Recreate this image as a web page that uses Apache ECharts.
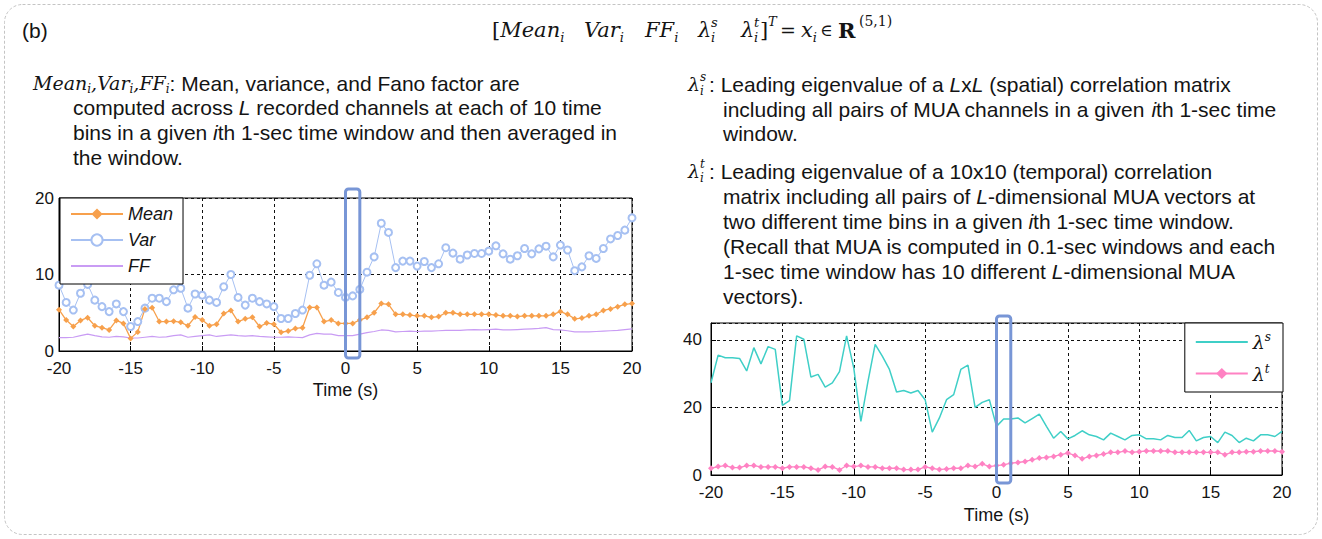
<!DOCTYPE html>
<html><head><meta charset="utf-8">
<script src="https://cdn.jsdelivr.net/npm/echarts@6/dist/echarts.min.js"></script>
<style>html,body{margin:0;padding:0;background:#fff;}#c{width:1322px;height:539px;}</style>
</head><body><div id="c"></div>
<script>
// ---------------- data ----------------
const time = [-20,-19.5,-19,-18.5,-18,-17.5,-17,-16.5,-16,-15.5,-15,-14.5,-14,-13.5,-13,-12.5,-12,-11.5,-11,-10.5,
  -10,-9.5,-9,-8.5,-8,-7.5,-7,-6.5,-6,-5.5,-5,-4.5,-4,-3.5,-3,-2.5,-2,-1.5,-1,-0.5,
  0,0.5,1,1.5,2,2.5,3,3.5,4,4.5,5,5.5,6,6.5,7,7.5,8,8.5,9,9.5,
  10,10.5,11,11.5,12,12.5,13,13.5,14,14.5,15,15.5,16,16.5,17,17.5,18,18.5,19,19.5,20];

const meanValues = [5.4,4.05,3.2,4.0,4.35,3.3,3.05,2.75,4.0,3.6,1.65,2.5,5.5,5.65,3.85,3.85,3.9,3.75,3.3,4.45,
  4.05,3.3,3.5,4.9,5.3,3.85,4.2,4.4,3.2,3.65,3.5,2.45,2.6,2.95,3.05,5.7,5.7,3.85,4.05,3.6,
  3.6,3.6,4.05,4.4,5.0,6.2,6.1,4.8,4.8,4.7,4.6,4.6,4.4,4.5,5.0,5.0,4.8,4.8,4.8,4.8,
  4.8,4.7,4.6,4.6,4.5,4.6,4.6,4.6,4.6,4.8,5.15,4.8,4.2,4.3,4.6,4.8,5.3,5.5,5.8,6.1,6.2];

const varValues = [8.6,6.35,5.35,7.55,8.7,6.65,5.8,5.15,6.15,5.15,3.2,3.85,5.6,6.9,6.9,6.45,8.0,8.2,5.6,7.45,
  7.3,6.65,6.35,8.4,10.0,7.0,6.0,6.9,6.45,6.15,5.8,4.25,4.25,4.9,5.35,9.9,11.4,8.6,9.0,7.65,
  7.0,7.2,8.05,10.3,12.3,16.7,15.5,10.9,11.75,11.75,11.1,11.7,10.9,11.4,13.5,12.8,12.0,12.55,12.75,12.75,
  13.05,13.75,12.7,12.0,12.45,13.4,12.7,13.35,13.7,12.3,13.85,13.2,10.5,11.0,12.45,12.1,13.4,14.65,15.1,15.8,17.4];

const fanoValues = [1.75,1.75,1.8,2.0,2.2,2.0,1.85,1.8,1.9,1.85,1.7,1.7,1.8,1.9,1.8,1.85,2.0,2.1,1.8,1.9,
  2.0,2.1,1.9,2.0,2.1,2.0,1.95,2.0,1.9,1.85,1.8,1.8,1.85,1.8,1.75,2.1,2.3,2.2,2.2,2.0,
  2.0,2.0,2.2,2.4,2.55,2.75,2.7,2.5,2.55,2.6,2.55,2.6,2.6,2.65,2.7,2.7,2.7,2.75,2.8,2.75,
  2.8,2.85,2.75,2.75,2.8,2.85,2.9,2.95,3.05,2.8,2.75,2.65,2.5,2.5,2.5,2.55,2.6,2.65,2.7,2.8,2.9];

const lambdaSValues = [27.3,35.5,34.7,34.7,34.5,30.8,37.7,32.9,38,37.2,20.6,22,41.2,40.2,29,29.8,26,27.3,30.6,41.2,
  31.7,15.9,27.8,38.7,35.2,31.25,24.6,25,24.3,25,22.3,12.7,16.9,22.3,23.8,31.25,32.5,20,21.5,22.3,
  14.4,16.6,16.6,16.9,15.4,16.7,18,14.4,10.9,12.9,10.7,11.7,13.1,11.9,11.4,10.4,12.4,11.4,10.4,11.7,
  11.9,10.7,10.7,10.4,11.7,11.1,11.1,13.2,10.1,11.1,11.4,9.6,12.7,11.7,9.6,10.9,10.1,11.9,11.9,11.4,12.9];

const lambdaTValues = [2.0,2.5,2.8,2.2,2.2,2.8,2.8,2.4,2.4,2.4,2.0,2.4,2.4,2.4,2.0,1.5,2.5,2.4,1.5,2.8,
  2.5,2.8,2.4,2.4,2.0,2.0,2.0,1.6,1.6,1.6,2.4,2.0,1.6,1.8,2.0,2.0,2.8,2.5,3.3,2.5,
  2.8,3.0,3.5,3.7,4.0,4.5,5.0,5.2,5.5,6.0,6.5,5.8,4.8,5.5,5.8,6.2,6.7,6.7,7.1,6.7,
  6.9,7.1,7.1,7.1,7.1,6.7,6.7,6.7,6.7,6.7,6.7,6.7,6.0,6.7,6.7,6.9,6.9,7.1,7.1,7.1,6.9];

const leftYTicks = [0, 10, 20];
const rightYTicks = [0, 20, 40];
const highlightWindow = [0, 1];

// ---------------- chart ----------------
const SANS = "'Liberation Sans', Arial, sans-serif";
const SERIF = "'DejaVu Serif', serif";
const INK = '#141414';
const C = { mean: '#f7a04c', vari: '#a6c0f2', ff: '#c99cf4', ls: '#3fcfc7', lt: '#ff82c3', hl: '#7896d6' };

function pairs(vals) { return time.map((t, i) => [t, vals[i]]); }

let gid = 0;
function T(x, y, text, style) {
  return { type: 'text', id: 'g' + (gid++), x: x, y: y, silent: true, z: 50,
    style: Object.assign({ text: text, fill: INK, fontFamily: SANS, fontSize: 21, lineHeight: 24,
      align: 'left', verticalAlign: 'middle' }, style || {}) };
}
const bodyRich = {
  it: { fontStyle: 'italic', fontFamily: SANS, fontSize: 21, lineHeight: 24, fill: INK }
};
function body(x, y, text) { return T(x, y, text, { rich: bodyRich }); }
const mathRich = {
  m: { fontStyle: 'italic', fontFamily: SERIF, fontSize: 19, lineHeight: 24, fill: INK },
  sb: { fontStyle: 'italic', fontFamily: SERIF, fontSize: 12, lineHeight: 11, verticalAlign: 'bottom', fill: INK },
  n: { fontFamily: SANS, fontSize: 21, lineHeight: 24, fill: INK }
};
const formRich = {
  m: { fontStyle: 'italic', fontFamily: SERIF, fontSize: 21, lineHeight: 28, fill: INK },
  sb: { fontStyle: 'italic', fontFamily: SERIF, fontSize: 13, lineHeight: 13, verticalAlign: 'bottom', fill: INK }
};
function fr(x, y, text) { return T(x, y, text, { fontFamily: SERIF, fontSize: 21, lineHeight: 28, rich: formRich }); }
function mi(x, y, s, size) { return T(x, y, s, { fontFamily: SERIF, fontStyle: 'italic', fontSize: size }); }
function mu(x, y, s, size, weight) { return T(x, y, s, { fontFamily: SERIF, fontSize: size, fontWeight: weight || 'normal' }); }

const texts = [
  T(22, 30, '(b)'),
  // formula
  fr(492, 30, '[{m|Mean}{sb|i}'),
  fr(584, 30, '{m|Var}{sb|i}'),
  fr(645, 30, '{m|FF}{sb|i}'),
  mi(698, 30, 'λ', 21), mi(711, 22, 's', 13), mi(711, 37, 'i', 13),
  mi(741, 30, 'λ', 21), mi(754, 22, 't', 13), mi(754, 37, 'i', 13),
  mu(760, 30, ']', 21), mi(768, 21, 'T', 13),
  mu(780, 30, '=', 19),
  fr(801, 30, '{m|x}{sb|i}'),
  mu(820, 30, '∈', 17),
  mu(838, 30, 'R', 21, 'bold'),
  mu(859, 21, '(5,1)', 14),
  // left paragraph
  T(33, 83, '{m|Mean}{sb|i}{m|,Var}{sb|i}{m|,FF}{sb|i}{n|: Mean, variance, and Fano factor are}', { rich: mathRich }),
  body(73, 107.5, 'computed across {it|L} recorded channels at each of 10 time'),
  body(73, 132, 'bins in a given {it|i}th 1-sec time window and then averaged in'),
  body(73, 157, 'the window.'),
  // right paragraph
  mi(688, 84, 'λ', 19), mi(700, 77, 's', 12), mi(700, 91, 'i', 12),
  body(709, 84, ': Leading eigenvalue of a {it|L}x{it|L} (spatial) correlation matrix'),
  body(723, 109, 'including all pairs of MUA channels in a given {it|i}th 1-sec time'),
  body(723, 133.5, 'window.'),
  mi(688, 171, 'λ', 19), mi(700, 164, 't', 12), mi(700, 178, 'i', 12),
  body(709, 171, ': Leading eigenvalue of a 10x10 (temporal) correlation'),
  body(723, 196.5, 'matrix including all pairs of {it|L}-dimensional MUA vectors at'),
  body(723, 221, 'two different time bins in a given {it|i}th 1-sec time window.'),
  body(723, 246, '(Recall that MUA is computed in 0.1-sec windows and each'),
  body(723, 271, '1-sec time window has 10 different {it|L}-dimensional MUA'),
  body(723, 296, 'vectors).')
];

const frame = { type: 'rect', id: 'frame', silent: true, z: 0,
  shape: { x: 4.5, y: 4.5, width: 1313, height: 530, r: 18 },
  style: { fill: 'none', stroke: '#c4c4c4', lineWidth: 1, lineDash: [3, 2] } };

const labelStyle = { color: INK, fontFamily: SANS, fontSize: 17 };
function xAx(gi, margin, nameGap) {
  return { type: 'value', gridIndex: gi, min: -20, max: 20, interval: 5,
    axisLine: { show: true, onZero: false, lineStyle: { color: '#000', width: 1 } },
    axisTick: { show: true, inside: true, length: 5, lineStyle: { color: '#000' } },
    axisLabel: Object.assign({ margin: margin }, labelStyle),
    splitLine: { show: true, lineStyle: { color: '#111', type: [3, 3], width: 1 } },
    name: 'Time (s)', nameLocation: 'middle', nameGap: nameGap,
    nameTextStyle: { color: INK, fontFamily: SANS, fontSize: 18 } };
}
function yAx(gi, max, interval, ticks, margin) {
  return { type: 'value', gridIndex: gi, min: 0, max: max, interval: interval,
    axisLine: { show: true, onZero: false, lineStyle: { color: '#000', width: 1 } },
    axisTick: { show: true, inside: true, length: 5, lineStyle: { color: '#000' } },
    axisLabel: Object.assign({ margin: margin, padding: [0, 0, 7, 0],
      formatter: v => ticks.indexOf(v) >= 0 ? String(v) : '' }, labelStyle),
    splitLine: { show: true, lineStyle: { color: '#111', type: [3, 3], width: 1 } } };
}

const legendRich = {
  l: { fontFamily: SERIF, fontStyle: 'italic', fontSize: 19, color: INK, lineHeight: 22 },
  s: { fontFamily: SERIF, fontStyle: 'italic', fontSize: 12, color: INK, lineHeight: 12, verticalAlign: 'top' }
};
const noMarker = { color: 'rgba(0,0,0,0)', borderWidth: 0, opacity: 0 };

const option = {
  animation: false,
  backgroundColor: '#fff',
  grid: [
    { left: 59, top: 198, width: 573, height: 153, show: true, borderColor: '#000', borderWidth: 1, backgroundColor: 'transparent' },
    { left: 711, top: 323, width: 571, height: 152, show: true, borderColor: '#000', borderWidth: 1, backgroundColor: 'transparent' }
  ],
  xAxis: [xAx(0, 9, 30), xAx(1, 9, 31)],
  yAxis: [yAx(0, 20, 10, leftYTicks, 5), yAx(1, 45, 20, rightYTicks, 9)],
  legend: [
    { left: 60, top: 198, orient: 'vertical', selectedMode: false,
      data: ['Mean', 'Var', { name: 'FF', itemStyle: noMarker }],
      itemWidth: 52, itemHeight: 14, itemGap: 8, padding: [7, 10, 9, 10],
      borderColor: '#000', borderWidth: 1, borderRadius: 0, backgroundColor: '#fff',
      textStyle: { fontFamily: SANS, fontStyle: 'italic', fontSize: 18, color: INK } },
    { right: 39, top: 323, orient: 'vertical', selectedMode: false,
      data: [{ name: 'λs', itemStyle: noMarker }, 'λt'],
      itemWidth: 52, itemHeight: 14, itemGap: 11, padding: [8, 12, 9, 10],
      borderColor: '#000', borderWidth: 1, borderRadius: 0, backgroundColor: '#fff',
      formatter: n => n === 'λs' ? '{l|λ}{s|s}' : '{l|λ}{s|t}',
      textStyle: { rich: legendRich } }
  ],
  series: [
    { name: 'FF', type: 'line', xAxisIndex: 0, yAxisIndex: 0, data: pairs(fanoValues), symbol: 'none',
      lineStyle: { color: C.ff, width: 1.2 }, itemStyle: { color: C.ff } },
    { name: 'Var', type: 'line', xAxisIndex: 0, yAxisIndex: 0, data: pairs(varValues), symbol: 'emptyCircle', symbolSize: 7,
      lineStyle: { color: C.vari, width: 1 }, itemStyle: { color: C.vari, borderWidth: 1 } },
    { name: 'Mean', type: 'line', xAxisIndex: 0, yAxisIndex: 0, data: pairs(meanValues), symbol: 'diamond', symbolSize: 6,
      lineStyle: { color: C.mean, width: 1.3 }, itemStyle: { color: C.mean } },
    { name: 'λs', type: 'line', xAxisIndex: 1, yAxisIndex: 1, data: pairs(lambdaSValues), symbol: 'none',
      lineStyle: { color: C.ls, width: 1.5 }, itemStyle: { color: C.ls } },
    { name: 'λt', type: 'line', xAxisIndex: 1, yAxisIndex: 1, data: pairs(lambdaTValues), symbol: 'diamond', symbolSize: 6,
      lineStyle: { color: C.lt, width: 1.3 }, itemStyle: { color: C.lt } }
  ],
  graphic: { elements: [frame].concat(texts) }
};

const chart = echarts.init(document.getElementById('c'), null, { renderer: 'svg', width: 1322, height: 539 });
chart.setOption(option);

// highlight rectangles for the i-th 1-sec window, placed through the axes
function hlRect(id, gi, yMax, padTop, padBottom) {
  const xa = chart.convertToPixel({ xAxisIndex: gi }, highlightWindow[0]);
  const xb = chart.convertToPixel({ xAxisIndex: gi }, highlightWindow[1]);
  const yt = chart.convertToPixel({ yAxisIndex: gi }, yMax);
  const yb = chart.convertToPixel({ yAxisIndex: gi }, 0);
  return { type: 'rect', id: id, silent: true, z: 60,
    shape: { x: xa, y: yt - padTop, width: xb - xa, height: (yb - yt) + padTop + padBottom, r: 3 },
    style: { fill: 'none', stroke: C.hl, lineWidth: 3 } };
}
option.graphic.elements.push(hlRect('hl0', 0, 20, 9, 7), hlRect('hl1', 1, 45, 7, 8));
chart.setOption(option, true);
</script>
</body></html>
